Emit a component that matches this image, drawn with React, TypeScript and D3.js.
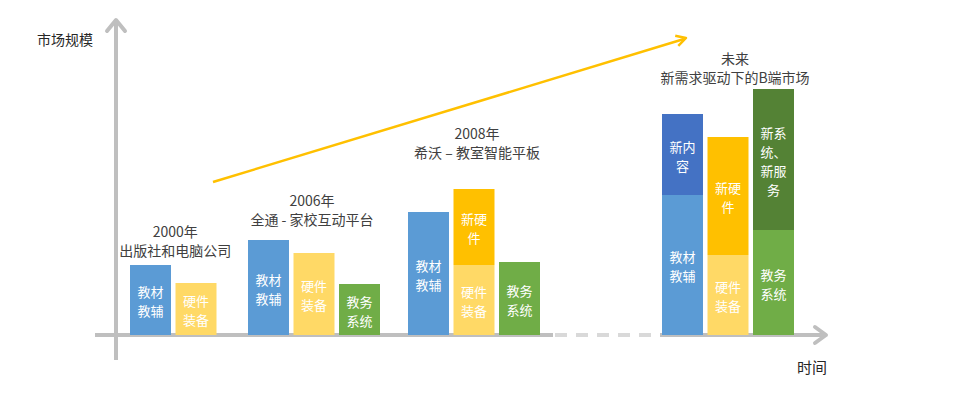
import React from "react";
import * as d3 from "d3";

// eras along the time axis
const groups = ["2000年", "2006年", "2008年", "未来"];
const groupSubtitles = ["出版社和电脑公司", "全通 - 家校互动平台", "希沃 – 教室智能平板", "新需求驱动下的B端市场"];

// base segments (existing market)
const baseKeys = ["教材教辅", "硬件装备", "教务系统"];
const baseLabels = [["教材", "教辅"], ["硬件", "装备"], ["教务", "系统"]];
const textbooks = [70, 95, 123, 140];
const hardware = [52, 82, 70, 80];
const systems = [0, 51, 73, 105];

// new segments stacked on top
const newLabels = [["新内", "容"], ["新硬", "件"], ["新系", "统、", "新服", "务"]];
const newContent = [0, 0, 0, 81];
const newHardware = [0, 0, 76, 118];
const newServices = [0, 0, 0, 141];

const baseColors = ["#5B9BD5", "#FFD966", "#70AD47"];
const newColors = ["#4472C4", "#FFC000", "#548235"];

// layout
const W = 960, H = 395;
const baseY = 335;
const groupX = [130, 248, 408, 662];
const titleY = [231, 200, 133, 58];
const titleDx = [2, -2, 3, 7];
const axisGray = "#BFBFBF";
const step = 45.5, barW = 41;

export default function App() {
  const y = d3.scaleLinear().domain([0, 250]).range([baseY, baseY - 250]);
  const xGroup = d3.scaleOrdinal<string, number>().domain(groups).range(groupX);
  const xInner = d3.scaleBand<string>().domain(baseKeys)
    .range([0, 2 * step + barW]).paddingInner((step - barW) / step);
  const bw = xInner.bandwidth();

  const baseVals = [textbooks, hardware, systems];
  const newVals = [newContent, newHardware, newServices];

  const lineH = 19;
  const textLines = (lines: string[], cx: number, y0: number, y1: number, key: string) => {
    const mid = (y0 + y1) / 2 + 1;
    return lines.map((t, i) => (
      <text key={key + i} x={cx} y={mid + (i - (lines.length - 1) / 2) * lineH}
        textAnchor="middle" dominantBaseline="central" fill="#fff" fontSize={13}>{t}</text>
    ));
  };

  const bars: React.ReactNode[] = [];
  groups.forEach((g, gi) => {
    baseKeys.forEach((k, si) => {
      const v = baseVals[si][gi];
      if (!v) return;
      const x0 = xGroup(g) + (xInner(k) ?? 0);
      const cx = x0 + bw / 2;
      const yTop = y(v);
      bars.push(<rect key={`b${gi}${si}`} x={x0} y={yTop} width={bw} height={baseY - yTop} fill={baseColors[si]} />);
      bars.push(...textLines(baseLabels[si], cx, yTop, baseY, `bt${gi}${si}`));
      const nv = newVals[si][gi];
      if (nv) {
        const yNew = y(v + nv);
        bars.push(<rect key={`n${gi}${si}`} x={x0} y={yNew} width={bw} height={yTop - yNew} fill={newColors[si]} />);
        bars.push(...textLines(newLabels[si], cx, yNew, yTop, `nt${gi}${si}`));
      }
    });
  });

  const groupCenter = (gi: number) => {
    const n = baseVals.filter((a) => a[gi]).length;
    return xGroup(groups[gi]) + ((n - 1) * step + barW) / 2;
  };

  // trend arrow
  const ax0 = 213, ay0 = 182, ax1 = 686, ay1 = 38;
  const ang = Math.atan2(ay1 - ay0, ax1 - ax0);
  const head = (a: number) => `${ax1 - 11 * Math.cos(ang + a)},${ay1 - 11 * Math.sin(ang + a)}`;

  return (
    <svg width={W} height={H} style={{ position: "absolute", left: 0, top: 0, background: "#fff" }}
      fontFamily="'Noto Sans CJK SC', 'Noto Sans', sans-serif">
      {/* y axis */}
      <line x1={116} y1={20} x2={116} y2={360} stroke={axisGray} strokeWidth={4} />
      <path d="M107,31 L116,20 L125,31" fill="none" stroke={axisGray} strokeWidth={4} strokeLinejoin="round" strokeLinecap="round" />
      {/* x axis */}
      <line x1={95} y1={baseY} x2={553} y2={baseY} stroke={axisGray} strokeWidth={4} />
      <line x1={555} y1={baseY} x2={660} y2={baseY} stroke="#D9D9D9" strokeWidth={4} strokeDasharray="12,9" />
      <line x1={660} y1={baseY} x2={824} y2={baseY} stroke={axisGray} strokeWidth={4} />
      <path d="M815,327 L826,335 L815,343" fill="none" stroke={axisGray} strokeWidth={4} strokeLinejoin="round" strokeLinecap="round" />

      {bars}

      {groups.map((g, gi) => (
        <g key={g} fill="#404040" fontSize={14} textAnchor="middle">
          <text x={groupCenter(gi) + titleDx[gi]} y={titleY[gi]} dominantBaseline="central">{g}</text>
          <text x={groupCenter(gi) + titleDx[gi]} y={titleY[gi] + 19} dominantBaseline="central">{groupSubtitles[gi]}</text>
        </g>
      ))}

      <line x1={ax0} y1={ay0} x2={ax1 - 2} y2={ay1 + 1} stroke="#FFC000" strokeWidth={2.5} />
      <path d={`M${head(0.5)} L${ax1},${ay1} L${head(-0.5)}`} fill="none" stroke="#FFC000" strokeWidth={2.5} strokeLinejoin="round" />

      <text x={37} y={39} fontSize={14} fill="#262626" dominantBaseline="central">市场规模</text>
      <text x={797} y={366} fontSize={15} fill="#262626" dominantBaseline="central">时间</text>
    </svg>
  );
}
